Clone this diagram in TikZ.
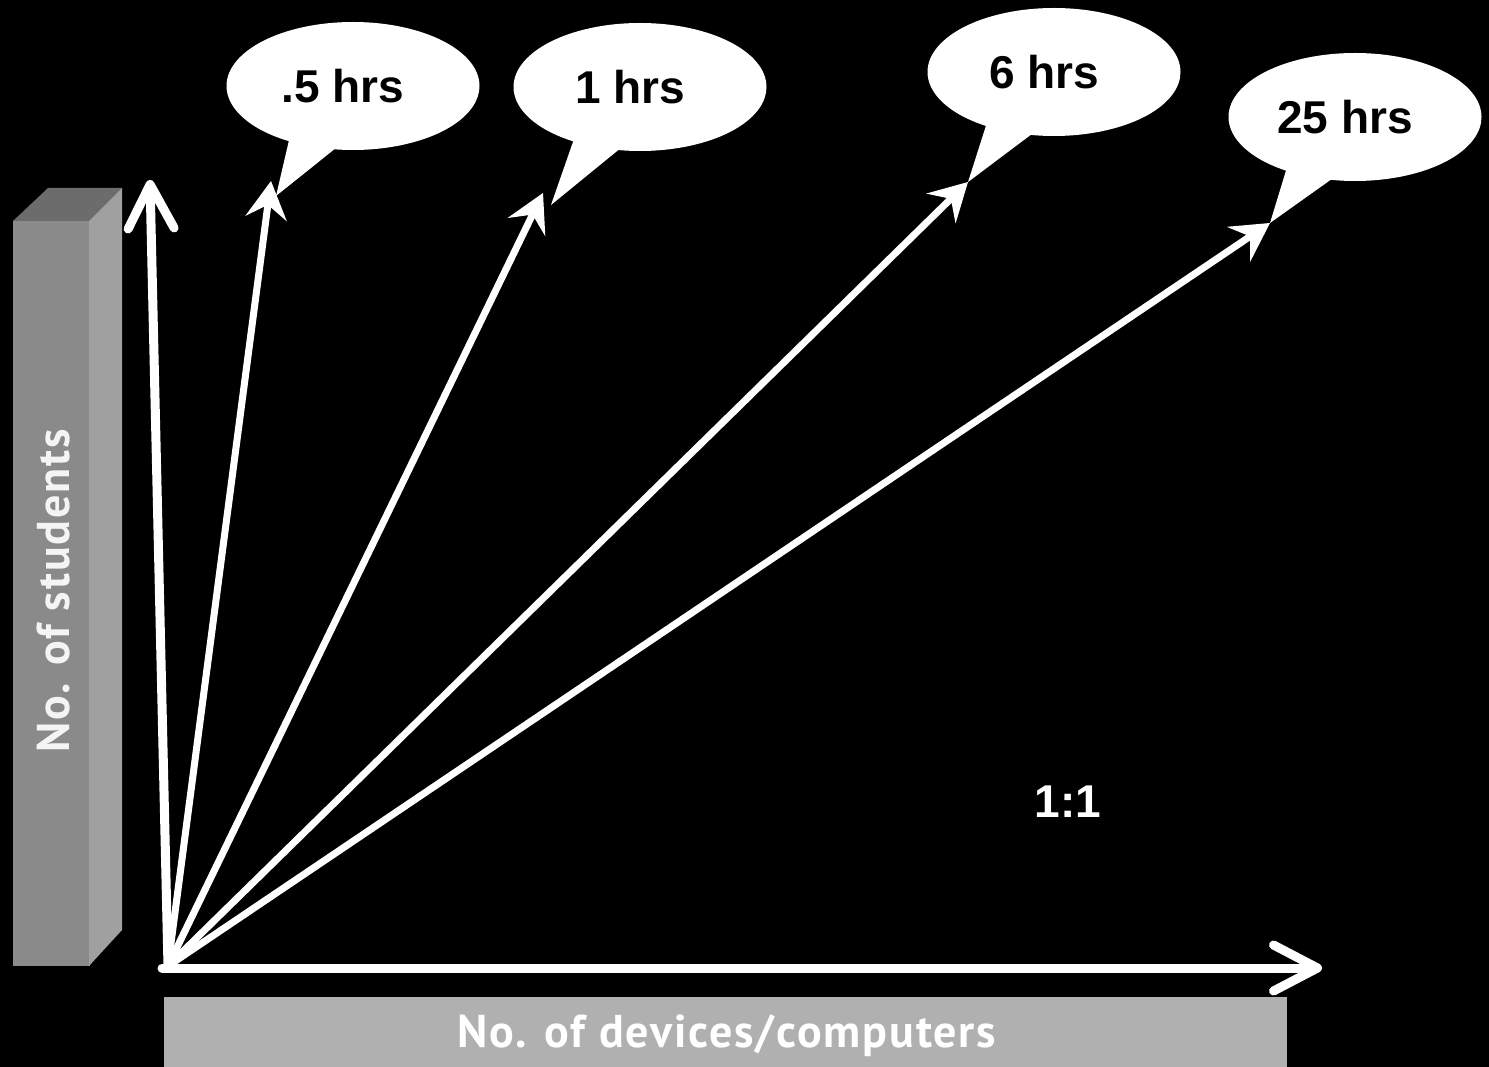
\documentclass[tikz,border=0pt]{standalone}
\usepackage{fontspec}
\setmainfont{Liberation Sans}
\newfontfamily\labelfont[LetterSpace=4]{PT Sans}
\usetikzlibrary{arrows.meta,shapes.callouts,shapes.geometric}

\definecolor{barfront}{HTML}{8A8A8A}
\definecolor{bartop}{HTML}{6C6C6C}
\definecolor{barside}{HTML}{A0A0A0}
\definecolor{barbase}{HTML}{B0B0B0}
\definecolor{labeltext}{HTML}{F4F4F4}

% text sitting a little left of the bubble centre
\newcommand{\bubbletext}[1]{\hspace*{-20pt}#1}

\begin{document}
\begin{tikzpicture}[x=1pt,y=-1pt,
  bubble/.style={ellipse callout, fill=white, draw=none,
    minimum width=253pt, minimum height=128pt, inner sep=0pt,
    callout pointer arc=22,
    font=\fontsize{46}{50}\selectfont\bfseries, text=black},
  axisline/.style={white, line width=9pt, line cap=round, line join=round,
    -{Straight Barb[length=44pt, width=46pt, round]}},
  rayline/.style={white, line width=7pt,
    -{Stealth[length=38pt, width=42pt, inset=14pt, line width=0pt]}},
  axislabel/.style={font=\labelfont\fontsize{46}{50}\selectfont\bfseries,
    text=labeltext},
  ratio/.style={font=\fontsize{46}{50}\selectfont\bfseries, text=white}
]
% canvas
\fill[black] (0,0) rectangle (1489,1067);
\useasboundingbox (0,0) rectangle (1489,1067);

% 3D column for the vertical axis
\fill[barfront] (13,221) rectangle (89,966);
\fill[bartop] (13,221) -- (48,188) -- (122,188) -- (89,221) -- cycle;
\fill[barside] (89,221) -- (122,188) -- (122,930) -- (89,966) -- cycle;
\draw[color=barfront!80!white, line width=1pt] (89,221) -- (89,966);
\node[axislabel, rotate=90] (ylabel) at (54,591) {No. of students};

% base bar for the horizontal axis
\fill[barbase] (164,997) rectangle (1287,1067);
\node[axislabel, text=white] (xlabel) at (727,1036) {No. of devices/computers};

% axis end points
\coordinate (O) at (168,966);
\coordinate (yend) at (150,180);
\coordinate (xend) at (1322,968);
\coordinate (xstart) at (162,968);

% ray tips
\coordinate (t1) at (271,181);
\coordinate (t2) at (543,193);
\coordinate (t3) at (968,182);
\coordinate (t4) at (1270,223);

% callouts
\node[bubble, callout absolute pointer={(276,196)}] (b1) at (353,86) {\bubbletext{.5 hrs}};
\node[bubble, callout absolute pointer={(551,205)}] (b2) at (640,87) {\bubbletext{1 hrs}};
\node[bubble, callout absolute pointer={(968,182)}] (b3) at (1054,72) {\bubbletext{6 hrs}};
\node[bubble, callout absolute pointer={(1270,223)}] (b4) at (1355,117) {\bubbletext{25 hrs}};

% axes
\draw[axisline] (O) -- (yend);
\draw[axisline] (xstart) -- (xend);

% rays
\draw[rayline] (O) -- (t1);
\draw[rayline] (O) -- (t2);
\draw[rayline] (O) -- (t3);
\draw[rayline] (O) -- (t4);

\node[ratio] (r11) at (1068,802) {1:1};
\end{tikzpicture}
\end{document}
